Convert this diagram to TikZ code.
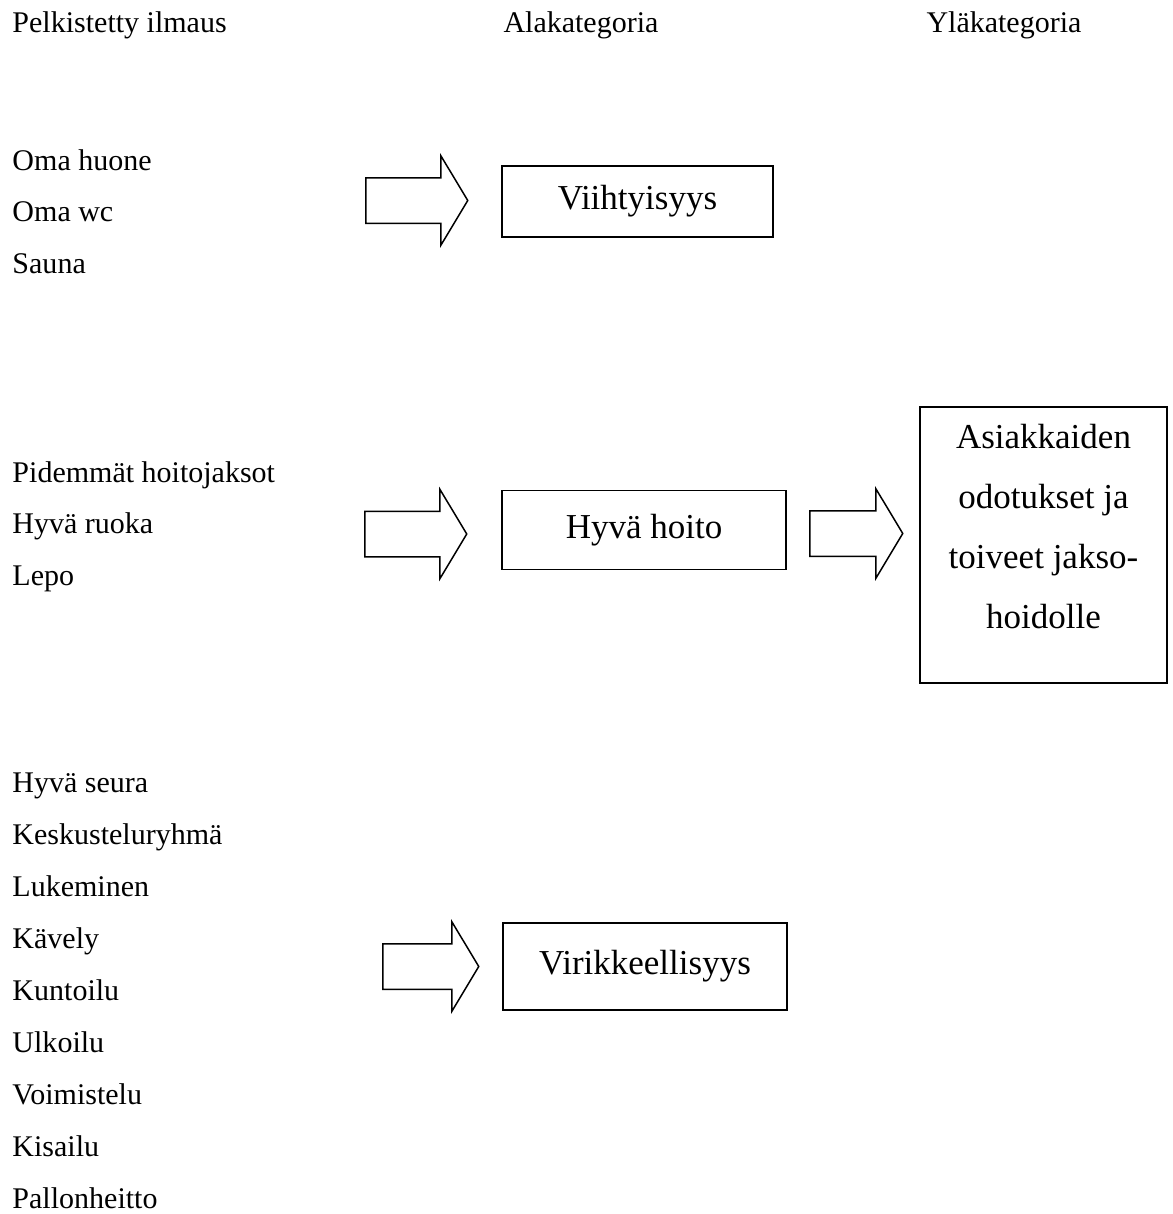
\documentclass[tikz,border=0pt]{standalone}
\usepackage{fontspec}
\setmainfont{Liberation Serif}
\usetikzlibrary{positioning,shapes.arrows}
\tikzset{
    header/.style={anchor=base west, inner sep=0pt, font=\fontsize{12}{14}\selectfont},
    item/.style={anchor=base west, inner sep=0pt, font=\fontsize{12}{14}\selectfont},
    catbox/.style={draw, line width=0.6pt, inner sep=0pt,
                   font=\fontsize{14}{24}\selectfont},
    boxtext/.style={inner sep=0pt, align=center, font=\fontsize{14}{24}\selectfont},
    blockarrow/.style={single arrow, draw, line width=0.6pt, inner sep=0pt,
                       text height=17.6pt, text depth=0pt,
                       single arrow head extend=8.8pt, single arrow tip angle=118,
                       anchor=tail, minimum height=40.8pt},
}

\begin{document}
\begin{tikzpicture}[x=0.4pt, y=-0.4pt]
\useasboundingbox (0,0) rectangle (1173,1214);

% ---------------------------------------------------------------------------
% Column headers
% ---------------------------------------------------------------------------
\node[header] (hpelk) at (12,32) {Pelkistetty ilmaus};
\node[header] (hala)  at (503,32) {Alakategoria};
\node[header] (hyla)  at (926,32) {Yläkategoria};

% ---------------------------------------------------------------------------
% Row 1: Viihtyisyys
% ---------------------------------------------------------------------------
\node[item] (omahuone) at (12,170) {Oma huone};
\node[item] (omawc)    at (12,221.5) {Oma wc};
\node[item] (sauna)    at (12,273) {Sauna};

\node[blockarrow] (nuoli1) at (365,200.5) {};
\node[catbox, minimum width=108.4pt, minimum height=28.4pt] (viihtyisyys)
    at (637.5,201.5) {Viihtyisyys};

% ---------------------------------------------------------------------------
% Row 2: Hyvä hoito
% ---------------------------------------------------------------------------
\node[item] (pidemmat) at (12,482) {Pidemmät hoitojaksot};
\node[item] (ruoka)    at (12,533.5) {Hyvä ruoka};
\node[item] (lepo)     at (12,585) {Lepo};

\node[blockarrow] (nuoli2) at (364,534) {};
\node[catbox, minimum width=113.6pt, minimum height=31.6pt] (hyvahoito)
    at (644,530) {Hyvä hoito};

\node[blockarrow, minimum height=37.2pt] (nuoli3) at (809,533.5) {};
\node[catbox, minimum width=98.8pt, minimum height=110.4pt] (ylabox)
    at (1043.5,545) {};
\node[boxtext, anchor=north, below=6.8pt of ylabox.north] (ylateksti)
    {Asiakkaiden\\odotukset ja\\toiveet jakso-\\hoidolle};

% ---------------------------------------------------------------------------
% Row 3: Virikkeellisyys
% ---------------------------------------------------------------------------
\node[item] (seura)     at (12,792.5) {Hyvä seura};
\node[item] (keskustelu) at (12,844.5) {Keskusteluryhmä};
\node[item] (lukeminen) at (12,896.5) {Lukeminen};
\node[item] (kavely)    at (12,948.5) {Kävely};
\node[item] (kuntoilu)  at (12,1000.5) {Kuntoilu};
\node[item] (ulkoilu)   at (12,1052.5) {Ulkoilu};
\node[item] (voimistelu) at (12,1104.5) {Voimistelu};
\node[item] (kisailu)   at (12,1156.5) {Kisailu};
\node[item] (pallo)     at (12,1208) {Pallonheitto};

\node[blockarrow, minimum height=38.4pt] (nuoli4) at (382,966.5) {};
\node[catbox, minimum width=113.6pt, minimum height=34.8pt] (virikkeellisyys)
    at (645,966.5) {Virikkeellisyys};

\end{tikzpicture}
\end{document}
